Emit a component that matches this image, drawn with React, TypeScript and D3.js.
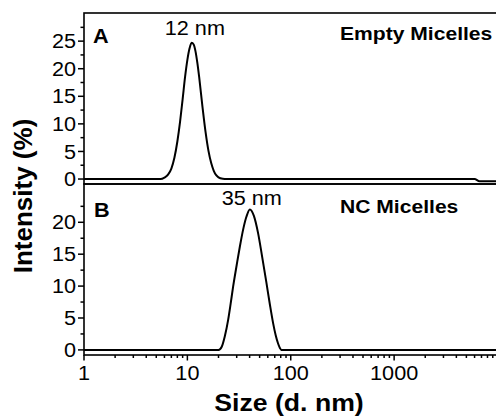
import React from "react";
import * as d3 from "d3";

// DLS size distributions (intensity %), hydrodynamic diameter in nm
const emptySize = [1, 5.5, 6.0, 6.5, 7.0, 7.5, 8.0, 8.5, 9.0, 9.5, 10, 10.5, 11, 11.5, 12, 12.5, 13, 14, 15, 16, 17, 18, 19, 20, 22, 24, 6000, 6700, 10000];
const emptyIntensity = [0, 0, 0.27, 0.8, 1.9, 3.9, 6.8, 10.4, 14.5, 18.5, 21.6, 23.7, 24.7, 24.4, 23.1, 21.0, 18.5, 13.1, 8.5, 5.1, 2.9, 1.5, 0.7, 0.3, 0.05, 0, 0, -0.4, -0.4];

const ncSize = [1, 20, 21.5, 23, 24.8, 26.2, 27.7, 30, 32.2, 35, 37.3, 40.2, 44, 48.3, 53, 58.2, 63, 67.5, 71.5, 75.4, 78.5, 81, 85, 10000];
const ncIntensity = [0, 0, 0.5, 2.1, 4.7, 7.2, 9.9, 13.3, 16.2, 19.2, 20.9, 22.0, 21.0, 18.3, 14.5, 10.5, 7.0, 4.2, 2.3, 1.0, 0.3, 0, 0, 0];

const xMajorTicks = [1, 10, 100, 1000];
const yTicksA = [0, 5, 10, 15, 20, 25];
const yMinorA = [2.5, 7.5, 12.5, 17.5, 22.5, 27.5];
const yTicksB = [0, 5, 10, 15, 20];
const yMinorB = [2.5, 7.5, 12.5, 17.5, 22.5];

// peak labels are centred over the distribution maximum
const panelA = { title: "Empty Micelles", letter: "A", peak: "12 nm", peakAt: 11.3 };
const panelB = { title: "NC Micelles", letter: "B", peak: "35 nm", peakAt: 40.2 };

const W = 496;
const H = 419;
const left = 84;
const right = 497.5;
const topA = 13;
const mid = 184;
const bottomB = 355;

const FONT = "'Liberation Sans', Arial, Helvetica, sans-serif";
const STRETCH = 1.11;

type LabelProps = {
  x: number;
  y: number;
  size: number;
  bold?: boolean;
  anchor?: "start" | "middle" | "end";
  central?: boolean;
  children: React.ReactNode;
};

// horizontal text set in a slightly widened face
function Label({ x, y, size, bold, anchor = "start", central, children }: LabelProps) {
  return (
    <text
      transform={`translate(${x},${y}) scale(${STRETCH},1)`}
      textAnchor={anchor}
      dominantBaseline={central ? "central" : undefined}
      fontSize={size}
      fontWeight={bold ? "bold" : "normal"}
      fontFamily={FONT}
    >
      {children}
    </text>
  );
}

export default function App() {
  const x = d3.scaleLog().domain([1, 10000]).range([left, right]);
  const yA = d3.scaleLinear().domain([-0.9, 30.1]).range([mid, topA]);
  const yB = d3.scaleLinear().domain([-0.8, 26]).range([bottomB, mid]);

  const lineA = d3
    .line<number>()
    .x((_, i) => x(emptySize[i]))
    .y((d) => yA(d))
    .curve(d3.curveMonotoneX);
  const lineB = d3
    .line<number>()
    .x((_, i) => x(ncSize[i]))
    .y((d) => yB(d))
    .curve(d3.curveMonotoneX);

  const minorX: number[] = [];
  for (let dec = 1; dec < 10000; dec *= 10) {
    for (let k = 2; k <= 9; k++) minorX.push(dec * k);
  }

  const tickFont = 19.5;

  const yAxis = (y: d3.ScaleLinear<number, number>, major: number[], minor: number[]) => (
    <g>
      {major.map((t) => (
        <g key={"M" + t}>
          <line x1={left - 6} x2={left} y1={y(t)} y2={y(t)} stroke="#000" strokeWidth={1.5} />
          <Label x={left - 8} y={y(t)} size={tickFont} anchor="end" central>
            {t}
          </Label>
        </g>
      ))}
      {minor.map((t) => (
        <line key={"m" + t} x1={left - 3.5} x2={left} y1={y(t)} y2={y(t)} stroke="#000" strokeWidth={1.5} />
      ))}
    </g>
  );

  return (
    <svg
      width={W}
      height={H}
      style={{ position: "absolute", left: 0, top: 0, background: "#fff" }}
    >
      <rect x={0} y={0} width={W} height={H} fill="#fff" />

      {/* panel frames */}
      <rect x={left} y={topA} width={right - left} height={mid - topA} fill="none" stroke="#000" strokeWidth={1.6} />
      <rect x={left} y={mid} width={right - left} height={bottomB - mid} fill="none" stroke="#000" strokeWidth={1.6} />

      {/* distributions */}
      <path d={lineA(emptyIntensity) || ""} fill="none" stroke="#000" strokeWidth={2} />
      <path d={lineB(ncIntensity) || ""} fill="none" stroke="#000" strokeWidth={2} />

      {yAxis(yA, yTicksA, yMinorA)}
      {yAxis(yB, yTicksB, yMinorB)}

      {/* log x axis along the bottom */}
      {xMajorTicks.map((t) => (
        <g key={"x" + t}>
          <line x1={x(t)} x2={x(t)} y1={bottomB} y2={bottomB + 5.5} stroke="#000" strokeWidth={1.5} />
          <Label x={x(t)} y={380} size={tickFont} anchor="middle">
            {t}
          </Label>
        </g>
      ))}
      {minorX.map((t) => (
        <line key={"xm" + t} x1={x(t)} x2={x(t)} y1={bottomB} y2={bottomB + 3} stroke="#000" strokeWidth={1.5} />
      ))}

      {/* panel annotations */}
      <Label x={93} y={42.5} size={19.5} bold>
        {panelA.letter}
      </Label>
      <Label x={x(panelA.peakAt) + 2} y={35} size={19.5} anchor="middle">
        {panelA.peak}
      </Label>
      <Label x={340} y={40} size={19} bold>
        {panelA.title}
      </Label>

      <Label x={94} y={216.5} size={19.5} bold>
        {panelB.letter}
      </Label>
      <Label x={x(panelB.peakAt) + 2} y={205} size={19.5} anchor="middle">
        {panelB.peak}
      </Label>
      <Label x={340} y={213} size={19} bold>
        {panelB.title}
      </Label>

      {/* axis titles */}
      <Label x={289} y={411} size={24} bold anchor="middle">
        Size (d. nm)
      </Label>
      <text
        transform={`translate(23,196) rotate(-90)`}
        textAnchor="middle"
        dominantBaseline="central"
        fontSize={26}
        fontWeight="bold"
        fontFamily={FONT}
      >
        Intensity (%)
      </text>
    </svg>
  );
}
